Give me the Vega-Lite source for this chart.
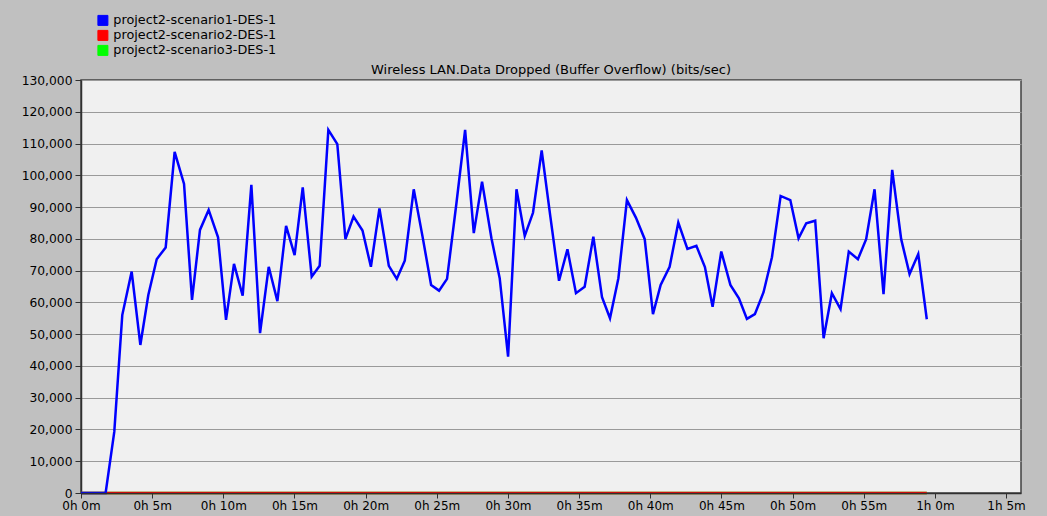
{
  "$schema": "https://vega.github.io/schema/vega-lite/v6.json",
  "width": 940,
  "height": 413,
  "autosize": {"type": "none"},
  "padding": {"left": 81, "top": 80, "right": 26, "bottom": 23},
  "background": "#c0c0c0",
  "title": {"text": "Wireless LAN.Data Dropped (Buffer Overflow) (bits/sec)", "anchor": "middle", "font": "DejaVu Sans", "fontSize": 13, "fontWeight": "normal", "color": "#000000", "offset": -63},
  "config": {
    "view": {"fill": "#f0f0f0", "stroke": "#404040", "strokeWidth": 1.5}
  },
  "data": {"values": [
    {"t": 0, "v": 0, "s": "project2-scenario3-DES-1"},
    {"t": 59.43, "v": 0, "s": "project2-scenario3-DES-1"},
    {"t": 0, "v": 0, "s": "project2-scenario2-DES-1"},
    {"t": 59.43, "v": 0, "s": "project2-scenario2-DES-1"},
    {"t": 0, "v": 0, "s": "project2-scenario1-DES-1"},
    {"t": 1.73, "v": 0, "s": "project2-scenario1-DES-1"},
    {"t": 2.34, "v": 19300, "s": "project2-scenario1-DES-1"},
    {"t": 2.90, "v": 56000, "s": "project2-scenario1-DES-1"},
    {"t": 3.56, "v": 69700, "s": "project2-scenario1-DES-1"},
    {"t": 4.17, "v": 46600, "s": "project2-scenario1-DES-1"},
    {"t": 4.73, "v": 62300, "s": "project2-scenario1-DES-1"},
    {"t": 5.32, "v": 73600, "s": "project2-scenario1-DES-1"},
    {"t": 5.95, "v": 77300, "s": "project2-scenario1-DES-1"},
    {"t": 6.58, "v": 107400, "s": "project2-scenario1-DES-1"},
    {"t": 7.24, "v": 97300, "s": "project2-scenario1-DES-1"},
    {"t": 7.80, "v": 60800, "s": "project2-scenario1-DES-1"},
    {"t": 8.36, "v": 82800, "s": "project2-scenario1-DES-1"},
    {"t": 8.97, "v": 89100, "s": "project2-scenario1-DES-1"},
    {"t": 9.63, "v": 80500, "s": "project2-scenario1-DES-1"},
    {"t": 10.19, "v": 54500, "s": "project2-scenario1-DES-1"},
    {"t": 10.75, "v": 72100, "s": "project2-scenario1-DES-1"},
    {"t": 11.36, "v": 62100, "s": "project2-scenario1-DES-1"},
    {"t": 11.97, "v": 97000, "s": "project2-scenario1-DES-1"},
    {"t": 12.58, "v": 50300, "s": "project2-scenario1-DES-1"},
    {"t": 13.19, "v": 71200, "s": "project2-scenario1-DES-1"},
    {"t": 13.80, "v": 60400, "s": "project2-scenario1-DES-1"},
    {"t": 14.41, "v": 84100, "s": "project2-scenario1-DES-1"},
    {"t": 15.01, "v": 74900, "s": "project2-scenario1-DES-1"},
    {"t": 15.58, "v": 96200, "s": "project2-scenario1-DES-1"},
    {"t": 16.21, "v": 68100, "s": "project2-scenario1-DES-1"},
    {"t": 16.77, "v": 71500, "s": "project2-scenario1-DES-1"},
    {"t": 17.38, "v": 114300, "s": "project2-scenario1-DES-1"},
    {"t": 18.01, "v": 109800, "s": "project2-scenario1-DES-1"},
    {"t": 18.58, "v": 79900, "s": "project2-scenario1-DES-1"},
    {"t": 19.15, "v": 87000, "s": "project2-scenario1-DES-1"},
    {"t": 19.78, "v": 82600, "s": "project2-scenario1-DES-1"},
    {"t": 20.37, "v": 71200, "s": "project2-scenario1-DES-1"},
    {"t": 20.97, "v": 89600, "s": "project2-scenario1-DES-1"},
    {"t": 21.63, "v": 71500, "s": "project2-scenario1-DES-1"},
    {"t": 22.19, "v": 67400, "s": "project2-scenario1-DES-1"},
    {"t": 22.75, "v": 73100, "s": "project2-scenario1-DES-1"},
    {"t": 23.38, "v": 95600, "s": "project2-scenario1-DES-1"},
    {"t": 24.00, "v": 80700, "s": "project2-scenario1-DES-1"},
    {"t": 24.60, "v": 65500, "s": "project2-scenario1-DES-1"},
    {"t": 25.16, "v": 63700, "s": "project2-scenario1-DES-1"},
    {"t": 25.72, "v": 67400, "s": "project2-scenario1-DES-1"},
    {"t": 26.38, "v": 91200, "s": "project2-scenario1-DES-1"},
    {"t": 26.99, "v": 114300, "s": "project2-scenario1-DES-1"},
    {"t": 27.60, "v": 81800, "s": "project2-scenario1-DES-1"},
    {"t": 28.18, "v": 98000, "s": "project2-scenario1-DES-1"},
    {"t": 28.84, "v": 80200, "s": "project2-scenario1-DES-1"},
    {"t": 29.42, "v": 67600, "s": "project2-scenario1-DES-1"},
    {"t": 30.01, "v": 42900, "s": "project2-scenario1-DES-1"},
    {"t": 30.60, "v": 95600, "s": "project2-scenario1-DES-1"},
    {"t": 31.18, "v": 80900, "s": "project2-scenario1-DES-1"},
    {"t": 31.76, "v": 88200, "s": "project2-scenario1-DES-1"},
    {"t": 32.37, "v": 107800, "s": "project2-scenario1-DES-1"},
    {"t": 32.98, "v": 87000, "s": "project2-scenario1-DES-1"},
    {"t": 33.59, "v": 66800, "s": "project2-scenario1-DES-1"},
    {"t": 34.18, "v": 76700, "s": "project2-scenario1-DES-1"},
    {"t": 34.78, "v": 62900, "s": "project2-scenario1-DES-1"},
    {"t": 35.39, "v": 64900, "s": "project2-scenario1-DES-1"},
    {"t": 36.00, "v": 80700, "s": "project2-scenario1-DES-1"},
    {"t": 36.61, "v": 61600, "s": "project2-scenario1-DES-1"},
    {"t": 37.17, "v": 55000, "s": "project2-scenario1-DES-1"},
    {"t": 37.76, "v": 67600, "s": "project2-scenario1-DES-1"},
    {"t": 38.36, "v": 92200, "s": "project2-scenario1-DES-1"},
    {"t": 38.99, "v": 86700, "s": "project2-scenario1-DES-1"},
    {"t": 39.61, "v": 79900, "s": "project2-scenario1-DES-1"},
    {"t": 40.19, "v": 56300, "s": "project2-scenario1-DES-1"},
    {"t": 40.73, "v": 65500, "s": "project2-scenario1-DES-1"},
    {"t": 41.36, "v": 71200, "s": "project2-scenario1-DES-1"},
    {"t": 41.97, "v": 85100, "s": "project2-scenario1-DES-1"},
    {"t": 42.61, "v": 76800, "s": "project2-scenario1-DES-1"},
    {"t": 43.24, "v": 77800, "s": "project2-scenario1-DES-1"},
    {"t": 43.84, "v": 71100, "s": "project2-scenario1-DES-1"},
    {"t": 44.38, "v": 58600, "s": "project2-scenario1-DES-1"},
    {"t": 44.99, "v": 76000, "s": "project2-scenario1-DES-1"},
    {"t": 45.63, "v": 65500, "s": "project2-scenario1-DES-1"},
    {"t": 46.23, "v": 61300, "s": "project2-scenario1-DES-1"},
    {"t": 46.79, "v": 54800, "s": "project2-scenario1-DES-1"},
    {"t": 47.35, "v": 56300, "s": "project2-scenario1-DES-1"},
    {"t": 47.96, "v": 63200, "s": "project2-scenario1-DES-1"},
    {"t": 48.55, "v": 74200, "s": "project2-scenario1-DES-1"},
    {"t": 49.16, "v": 93500, "s": "project2-scenario1-DES-1"},
    {"t": 49.84, "v": 92200, "s": "project2-scenario1-DES-1"},
    {"t": 50.42, "v": 80200, "s": "project2-scenario1-DES-1"},
    {"t": 50.96, "v": 84900, "s": "project2-scenario1-DES-1"},
    {"t": 51.59, "v": 85700, "s": "project2-scenario1-DES-1"},
    {"t": 52.18, "v": 48700, "s": "project2-scenario1-DES-1"},
    {"t": 52.76, "v": 62900, "s": "project2-scenario1-DES-1"},
    {"t": 53.37, "v": 57900, "s": "project2-scenario1-DES-1"},
    {"t": 53.95, "v": 76000, "s": "project2-scenario1-DES-1"},
    {"t": 54.59, "v": 73600, "s": "project2-scenario1-DES-1"},
    {"t": 55.17, "v": 79900, "s": "project2-scenario1-DES-1"},
    {"t": 55.76, "v": 95600, "s": "project2-scenario1-DES-1"},
    {"t": 56.39, "v": 62600, "s": "project2-scenario1-DES-1"},
    {"t": 57.00, "v": 101700, "s": "project2-scenario1-DES-1"},
    {"t": 57.63, "v": 79900, "s": "project2-scenario1-DES-1"},
    {"t": 58.22, "v": 68900, "s": "project2-scenario1-DES-1"},
    {"t": 58.83, "v": 75200, "s": "project2-scenario1-DES-1"},
    {"t": 59.43, "v": 54700, "s": "project2-scenario1-DES-1"}
  ]},
  "encoding": {
    "x": {
      "field": "t", "type": "quantitative",
      "scale": {"domain": [0, 66.05], "nice": false, "zero": false},
      "axis": {
        "title": null,
        "values": [0, 5, 10, 15, 20, 25, 30, 35, 40, 45, 50, 55, 60, 65],
        "labelExpr": "floor(datum.value / 60) + 'h ' + (datum.value % 60) + 'm'",
        "grid": false,
        "domainColor": "#303030", "domainWidth": 1.5,
        "tickColor": "#303030", "tickSize": 5, "tickWidth": 1,
        "labelFont": "DejaVu Sans", "labelFontSize": 12, "labelColor": "#000000",
        "labelPadding": 2, "labelFlush": false, "labelOverlap": false,
        "zindex": 1
      }
    },
    "y": {
      "field": "v", "type": "quantitative",
      "scale": {"domain": [0, 130000], "nice": false},
      "axis": {
        "title": null,
        "values": [0, 10000, 20000, 30000, 40000, 50000, 60000, 70000, 80000, 90000, 100000, 110000, 120000, 130000],
        "format": ",d",
        "grid": true, "gridColor": "#9a9a9a", "gridWidth": 1,
        "domainColor": "#303030", "domainWidth": 1.5,
        "tickColor": "#303030", "tickSize": 6, "tickWidth": 1,
        "labelFont": "DejaVu Sans", "labelFontSize": 12.3, "labelColor": "#000000",
        "labelPadding": 3, "labelOverlap": false
      }
    },
    "color": {
      "field": "s", "type": "nominal",
      "scale": {
        "domain": ["project2-scenario1-DES-1", "project2-scenario2-DES-1", "project2-scenario3-DES-1"],
        "range": ["#0000ff", "#ff0000", "#00ff00"]
      },
      "legend": {
        "orient": "none", "legendX": 15.5, "legendY": -66,
        "title": null, "padding": 0,
        "symbolType": "square", "symbolSize": 100,
        "symbolStrokeColor": "#000000", "symbolStrokeWidth": 1,
        "labelFont": "DejaVu Sans", "labelFontSize": 12.8, "labelColor": "#000000",
        "labelOffset": 4, "rowPadding": 0, "labelLimit": 400,
        "encode": {"symbols": {"update": {"fill": {"scale": "color", "field": "value"}, "stroke": {"value": "#000000"}, "strokeWidth": {"value": 1}, "opacity": {"value": 1}}}}
      }
    }
  },
  "layer": [
    {"transform": [{"filter": "datum.s === 'project2-scenario3-DES-1'"}], "mark": {"type": "line", "strokeWidth": 2.5}},
    {"transform": [{"filter": "datum.s === 'project2-scenario2-DES-1'"}], "mark": {"type": "line", "strokeWidth": 2.5}},
    {"transform": [{"filter": "datum.s === 'project2-scenario1-DES-1'"}], "mark": {"type": "line", "strokeWidth": 2.5}}
  ]
}
